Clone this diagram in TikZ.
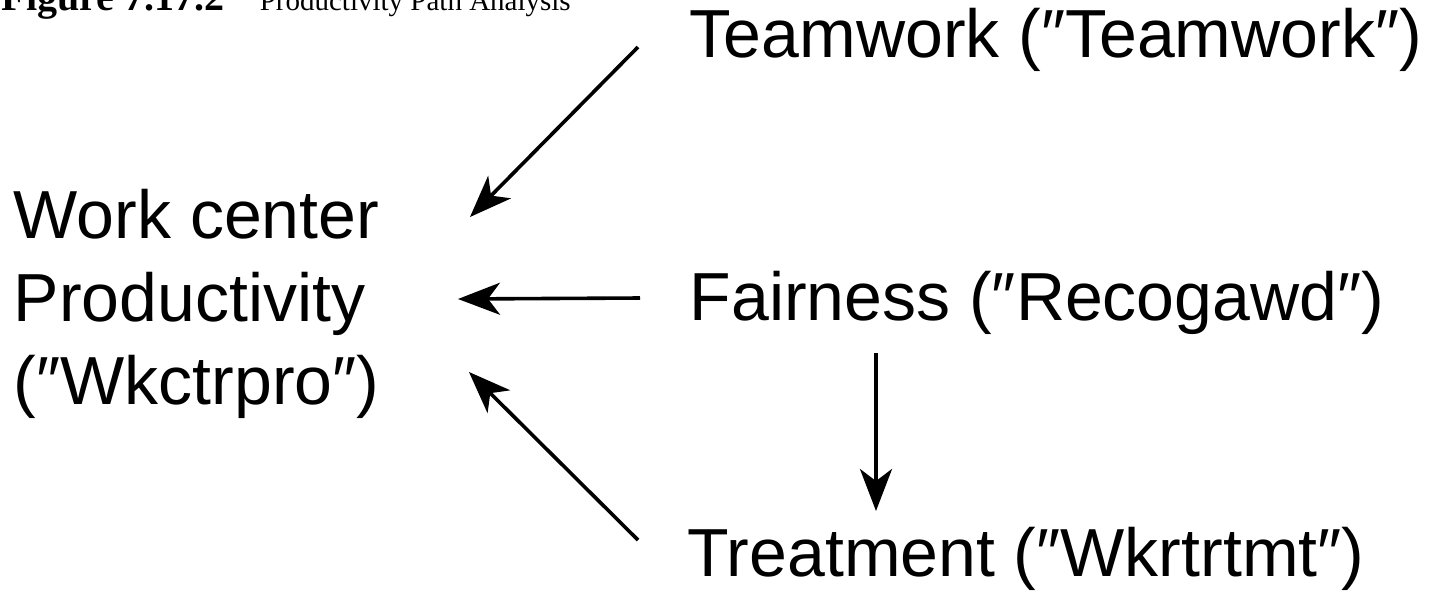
\documentclass[tikz,border=0pt]{standalone}
\usepackage{fontspec}
\setmainfont{Liberation Sans}
\newfontfamily\capfont{Liberation Serif}
\usepackage{tikz}
\usetikzlibrary{arrows.meta,positioning}

\begin{document}
\begin{tikzpicture}[x=0.5pt, y=-0.5pt,
    lbl/.style={font=\fontsize{34}{41}\selectfont, inner sep=0pt, anchor=base west},
    >={Stealth[length=21pt, width=16pt, inset=6pt]}, line width=1.8pt]
    \useasboundingbox (0,0) rectangle (1437,591);
    \clip (0,0) rectangle (1437,591);

    % caption, cut off at the top edge
    \node[inner sep=0pt, anchor=base west, font=\capfont\bfseries\fontsize{20}{22}\selectfont] (capnum) at (0,10) {Figure 7.17.2};
    \node[inner sep=0pt, anchor=base west, font=\capfont\fontsize{14.5}{18}\selectfont] (captitle) at (258,10) {Productivity Path Analysis};

    \node[lbl] (work) at (12,238) {Work center};
    \node[lbl] (prod) at ([yshift=-41.5pt]work.base west) {Productivity};
    \node[lbl] (wk) at ([yshift=-41.5pt]prod.base west) {(″Wkctrpro″)};

    \node[lbl] (team) at (688,57) {Teamwork (″Teamwork″)};
    \node[lbl] (fair) at (688,320) {Fairness (″Recogawd″)};
    \node[lbl] (treat) at (686,576) {Treatment (″Wkrtrtmt″)};

    \draw[->] ([shift={(-50,-10)}]team.base west) -- ([shift={(458,-21)}]work.base west);
    \draw[->] ([shift={(-48,-22)}]fair.base west) -- ([shift={(446,-22)}]prod.base west);
    \draw[->] ([shift={(-48,-36)}]treat.base west) -- ([shift={(457,-32)}]wk.base west);
    \draw[->] ([shift={(188,33)}]fair.base west) -- ([shift={(190,-65)}]treat.base west);
\end{tikzpicture}
\end{document}
